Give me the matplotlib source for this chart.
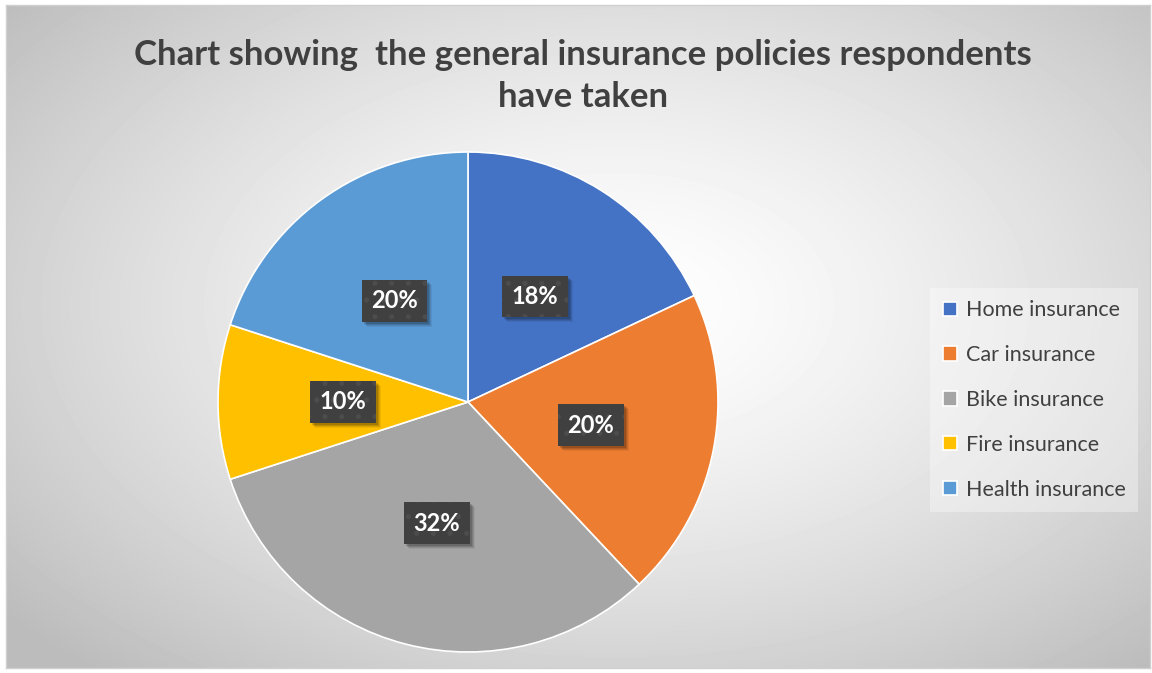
import matplotlib
matplotlib.use('Agg')
import matplotlib.pyplot as plt
from matplotlib.patches import Rectangle
from matplotlib.transforms import IdentityTransform
import numpy as np

# Survey results
policies = ['Home insurance', 'Car insurance', 'Bike insurance', 'Fire insurance', 'Health insurance']
shares = [18, 20, 32, 10, 20]
colors = ['#4472C4', '#ED7D31', '#A5A5A5', '#FFC000', '#5B9BD5']

plt.rcParams['font.family'] = ['Lato', 'DejaVu Sans']
plt.rcParams['hatch.linewidth'] = 1.3

W, H = 1152, 673
fig = plt.figure(figsize=(W / 100, H / 100), dpi=100, facecolor='white')

# Radial grey backdrop
bg = fig.add_axes([6 / W, 5 / H, 1144 / W, 663 / H])
yy, xx = np.mgrid[0:663, 0:1144]
d = np.sqrt(((xx - 610) / 720.0) ** 2 + ((yy - 300) / 440.0) ** 2)
shade = 1 - 0.23 * np.clip(d, 0, 1.1) ** 1.4
bg.imshow(shade, cmap='gray', vmin=0, vmax=1, aspect='auto', interpolation='bilinear')
bg.set_xticks([])
bg.set_yticks([])
for s in bg.spines.values():
    s.set_color('#d0d0d0')
    s.set_linewidth(1)

fig.text(583 / W, 1 - 55 / H, 'Chart showing  the general insurance policies respondents',
         ha='center', va='center', fontsize=25, fontweight='bold', color='#404040')
fig.text(583 / W, 1 - 97 / H, 'have taken',
         ha='center', va='center', fontsize=25, fontweight='bold', color='#404040')

# Pie
cx, cy, r = 468, 402, 250
ax = fig.add_axes([(cx - r) / W, (H - cy - r) / H, 2 * r / W, 2 * r / H])
wedges, texts, autotexts = ax.pie(
    shares, colors=colors, startangle=90, counterclock=False, radius=1,
    autopct=lambda p: f'{p:.0f}%', pctdistance=0.5,
    wedgeprops=dict(edgecolor='white', linewidth=1.2))
ax.set_xlim(-1, 1)
ax.set_ylim(-1, 1)
ax.axis('off')

for t in autotexts:
    t.set_zorder(4)
    t.set_color('white')
    t.set_fontsize(17)
    t.set_fontweight('bold')
    t.set_bbox(dict(boxstyle='square,pad=0.4', fc='#404040', ec='#4c4c4c', lw=0, hatch='.'))

# soft drop shadow behind each label box
fig.canvas.draw()
for t in autotexts:
    ext = t.get_bbox_patch().get_window_extent()
    for k, a in [(5, 0.06), (4, 0.09), (3, 0.12), (2, 0.14)]:
        ax.add_artist(Rectangle((ext.x0 + k, ext.y0 - k), ext.width, ext.height,
                                transform=IdentityTransform(), fc='black', ec='none',
                                alpha=a, zorder=3))

leg = fig.legend(wedges, policies, loc='center left', bbox_to_anchor=(930 / W, 1 - 400 / H),
                 frameon=True, fontsize=15.5, labelcolor='#404040', handlelength=0.65,
                 handleheight=0.65, handletextpad=0.4, labelspacing=1.15, borderpad=0.6,
                 borderaxespad=0, fancybox=False)
leg.get_frame().set_facecolor('white')
leg.get_frame().set_alpha(0.35)
leg.get_frame().set_edgecolor('none')

fig.savefig('out.png', dpi=100, facecolor='white')
